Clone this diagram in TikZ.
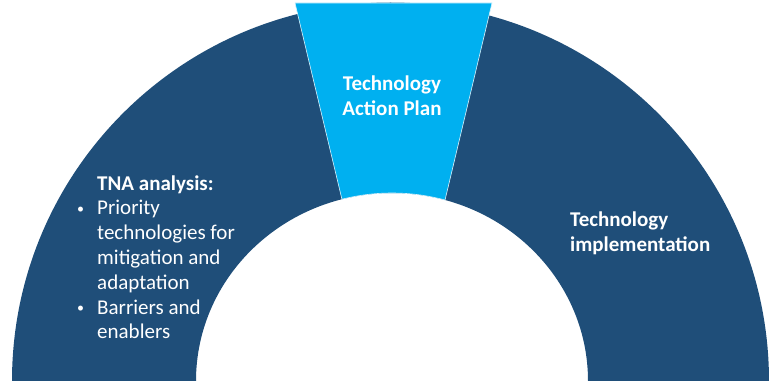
\documentclass[tikz,border=0pt]{standalone}
\usepackage{fontspec}
\setmainfont{Carlito}
\usepackage{array}
\usetikzlibrary{calc}
\definecolor{ringblue}{HTML}{1F4E79}
\definecolor{tapblue}{HTML}{00B0F0}
\newcommand{\smbul}{\raisebox{1.5pt}{\fontsize{14}{14}\selectfont\textbullet}}
\tikzset{
  lbl/.style={text=white, inner sep=0pt, font=\fontsize{21}{25}\selectfont},
}
\begin{document}
\begin{tikzpicture}[x=1pt,y=1pt]
\useasboundingbox (0,0) rectangle (769,383);
\coordinate (ci) at (392,2);
% ring
\fill[ringblue] (12,2) arc[start angle=180, end angle=0, radius=378.5]
  -- (588,2) arc[start angle=0, end angle=180, x radius=196, y radius=188] -- cycle;
% light blue segment
\coordinate (tl) at (295,380);
\coordinate (tr) at (492,380);
\coordinate (br) at ($(ci)+(74.3:196 and 188)$);
\fill[tapblue, draw=white!85!tapblue, line width=0.6pt] (tl) -- (tr) -- (br)
  arc[start angle=74.3, end angle=104.8, x radius=196, y radius=188] -- cycle;
% texts
\node[lbl, align=center, anchor=base, font=\bfseries\fontsize{21}{25.5}\selectfont] (tap) at (392,267) {Technology\\Action Plan};
\node[lbl, align=left, anchor=base west, font=\bfseries\fontsize{21}{25.5}\selectfont] (impl) at (570,131) {Technology\\implementation};
\node[lbl, anchor=north west, font=\fontsize{21}{24.8}\selectfont] (tna) at (77,210.5) {%
\renewcommand{\arraystretch}{1}%
\begin{tabular}{@{}p{20pt}@{}l@{}}
 & \textbf{TNA analysis:}\\
\smbul & Priority\\
 & technologies for\\
 & mitigation and\\
 & adaptation\\
\smbul & Barriers and\\
 & enablers
\end{tabular}};
\end{tikzpicture}
\end{document}
